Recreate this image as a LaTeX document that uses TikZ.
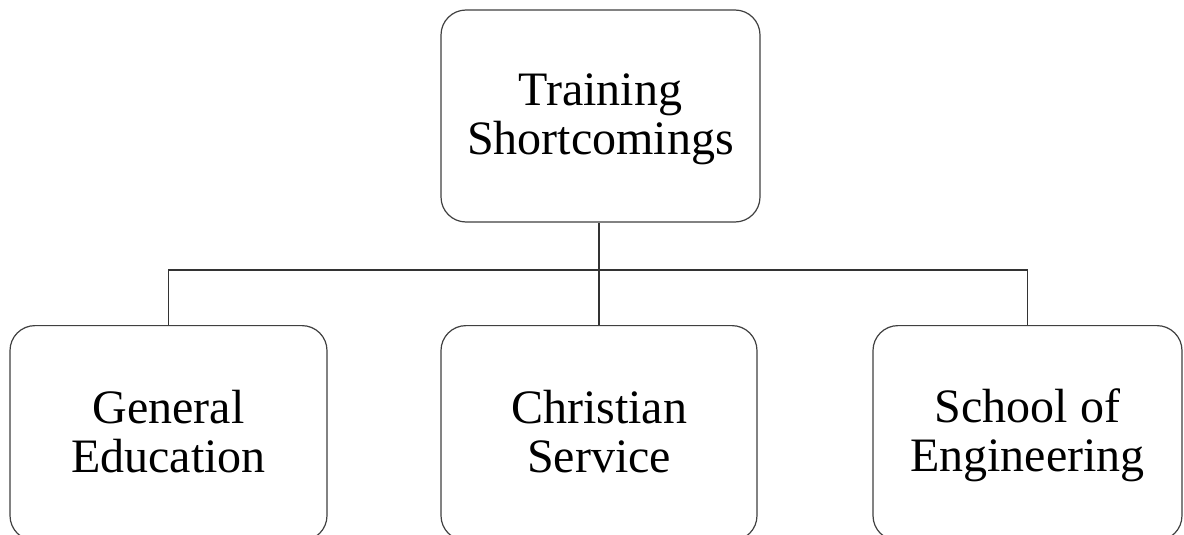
\documentclass[tikz,border=0pt]{standalone}
\usepackage{fontspec}
\setmainfont{Liberation Serif}
\newcommand{\topstrut}{\rule{0pt}{39pt}}
\newcommand{\botstrut}{\rule[-10pt]{0pt}{10pt}}
\begin{document}
\begin{tikzpicture}[x=1pt,y=1pt,
  box/.style={draw=black!75, line width=1.2pt, rounded corners=25pt, fill=white,
    align=center, inner sep=0pt, font=\fontsize{48}{49}\selectfont},
  link/.style={draw=black!80, line width=1.1pt}]
\useasboundingbox (0,0) rectangle (1184,-535);
\node[box, minimum width=319pt, minimum height=212pt] (top) at (600.5,-116) {\topstrut Training\\Shortcomings\botstrut};
\node[box, minimum width=317pt, minimum height=215pt, anchor=north] (left) at (168.5,-325) {\topstrut General\\Education\botstrut};
\node[box, minimum width=316pt, minimum height=215pt, anchor=north] (mid) at (599,-325) {\topstrut Christian\\Service\botstrut};
\node[box, minimum width=309pt, minimum height=215pt, anchor=north] (right) at (1027.5,-325) {\topstrut School of\\Engineering\botstrut};
\coordinate (hub) at (599,-270);
\draw[link] (top.south -| hub) -- (hub) -- (mid.north);
\draw[link] (hub) -| (left.north);
\draw[link] (hub) -| (right.north);
\end{tikzpicture}
\end{document}
